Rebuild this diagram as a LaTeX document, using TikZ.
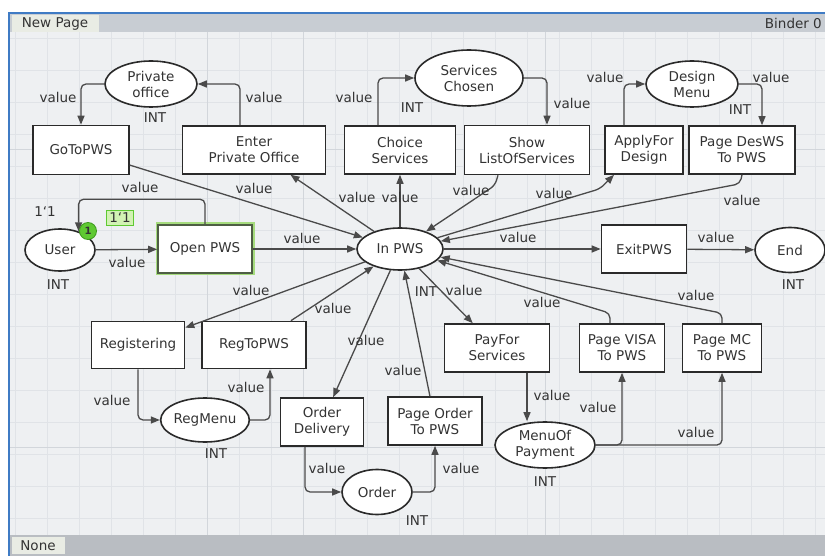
\documentclass[tikz,border=0pt]{standalone}
\usepackage{fontspec}
\setmainfont{DejaVu Sans}
\usetikzlibrary{arrows.meta,shapes.geometric,calc}
\definecolor{canvas}{HTML}{EEF0F2}
\definecolor{gridc}{HTML}{E0E3E7}
\definecolor{gridmaj}{HTML}{D2D6DB}
\definecolor{titlebar}{HTML}{C8CDD3}
\definecolor{tabc}{HTML}{E9ECE4}
\definecolor{botbar}{HTML}{B9BDC2}
\definecolor{frameblue}{HTML}{3F7BC4}
\definecolor{nodeline}{HTML}{2A2A2A}
\definecolor{arcline}{HTML}{4A4A4A}
\definecolor{txt}{HTML}{333333}
\definecolor{glowc}{HTML}{A6DC7E}
\definecolor{opline}{HTML}{4E5E44}
\definecolor{tokgreen}{HTML}{5FC932}
\definecolor{tokdark}{HTML}{3E9A1E}
\definecolor{toklabel}{HTML}{D2F2B4}
\begin{document}
\begin{tikzpicture}[x=1pt,y=-1pt,
  font=\fontsize{13.5}{16}\selectfont,
  cpntrans/.style={draw=nodeline,line width=1.6pt,fill=white,rectangle,align=center,text=txt,inner sep=0pt},
  cpnplace/.style={draw=nodeline,line width=1.6pt,fill=white,ellipse,align=center,text=txt,inner sep=0pt},
  cpnarc/.style={draw=arcline,line width=1.3pt,-{Triangle[length=9pt,width=7pt]},rounded corners=5pt},
  cpnlbl/.style={text=txt,inner sep=0pt},
]
\useasboundingbox (0,0) rectangle (825,556);
\clip (0,0) rectangle (825,556);
% canvas
\fill[white] (0,0) rectangle (825,556);
\fill[canvas] (8,13) rectangle (825,556);
\foreach \x in {15,47,...,815} \draw[gridc,line width=0.8pt] (\x,32) -- (\x,535);
\foreach \y in {38,70,...,530} \draw[gridc,line width=0.8pt] (8,\y) -- (825,\y);
\foreach \x in {207,303,545} \draw[gridmaj,line width=1pt] (\x,32) -- (\x,535);
\foreach \y in {150,447} \draw[gridmaj,line width=1pt] (8,\y) -- (825,\y);
% title and bottom bars
\fill[titlebar] (8,14) rectangle (825,32);
\fill[tabc] (12,15) rectangle (99,32);
\node[cpnlbl] (tabnew) at (55,24) {New Page};
\node[cpnlbl,anchor=east] (binder) at (822,23) {Binder 0};
\fill[botbar] (8,535) rectangle (825,556);
\fill[tabc] (12,537) rectangle (65,554);
\node[cpnlbl] (tabnone) at (38,546) {None};
\draw[frameblue,line width=2pt] (9,556) -- (9,13) -- (825,13);

% places
\node[cpnplace,minimum width=92pt,minimum height=46pt] (po) at (151,84) {Private\\office};
\node[cpnplace,minimum width=108pt,minimum height=56pt] (sc) at (469,78) {Services\\Chosen};
\node[cpnplace,minimum width=92pt,minimum height=46pt] (dm) at (692,84) {Design\\Menu};
\node[cpnplace,minimum width=70pt,minimum height=42pt] (user) at (60,250) {User};
\node[cpnplace,minimum width=86pt,minimum height=42pt] (inp) at (400,249) {In PWS};
\node[cpnplace,minimum width=70pt,minimum height=45pt] (end) at (790,250) {End};
\node[cpnplace,minimum width=86pt,minimum height=44pt] (rm) at (205,420) {RegMenu};
\node[cpnplace,minimum width=70pt,minimum height=45pt] (ord) at (377,492) {Order};
\node[cpnplace,minimum width=100pt,minimum height=46pt] (mp) at (545,445) {MenuOf\\Payment};

% transitions
\node[cpntrans,minimum width=96pt,minimum height=49pt] (g2p) at (81,150) {GoToPWS};
\node[cpntrans,minimum width=143pt,minimum height=48pt] (epo) at (254,150) {Enter\\Private Office};
\node[cpntrans,minimum width=111pt,minimum height=48pt] (cs) at (400,150) {Choice\\Services};
\node[cpntrans,minimum width=125pt,minimum height=49pt] (sl) at (527,150) {Show\\ListOfServices};
\node[cpntrans,minimum width=78pt,minimum height=48pt] (afd) at (644,150) {ApplyFor\\Design};
\node[cpntrans,minimum width=106pt,minimum height=48pt] (pd) at (742,150) {Page DesWS\\To PWS};
\node[cpntrans,draw=opline,minimum width=94pt,minimum height=48pt,preaction={draw=glowc,line width=5pt}] (op) at (205,249) {Open PWS};
\node[cpntrans,minimum width=85pt,minimum height=48pt] (ex) at (644,249) {ExitPWS};
\node[cpntrans,minimum width=93pt,minimum height=47pt] (reg) at (138,345) {Registering};
\node[cpntrans,minimum width=104pt,minimum height=47pt] (rtp) at (254,345) {RegToPWS};
\node[cpntrans,minimum width=105pt,minimum height=48pt] (pfs) at (497,348) {PayFor\\Services};
\node[cpntrans,minimum width=85pt,minimum height=48pt] (pv) at (622,348) {Page VISA\\To PWS};
\node[cpntrans,minimum width=79pt,minimum height=48pt] (pmc) at (722,348) {Page MC\\To PWS};
\node[cpntrans,minimum width=83pt,minimum height=48pt] (od) at (322,422) {Order\\Delivery};
\node[cpntrans,minimum width=94pt,minimum height=48pt] (pot) at (435,421) {Page Order\\To PWS};

% colour set labels
\node[cpnlbl] (point) at (155,118) {INT};
\node[cpnlbl] (scint) at (412,108) {INT};
\node[cpnlbl] (dmint) at (740,110) {INT};
\node[cpnlbl] (userint) at (58,285) {INT};
\node[cpnlbl] (inpint) at (426,292) {INT};
\node[cpnlbl] (endint) at (793,285) {INT};
\node[cpnlbl] (rmint) at (216,454) {INT};
\node[cpnlbl] (ordint) at (417,521) {INT};
\node[cpnlbl] (mpint) at (545,482) {INT};

% arcs
\draw[cpnarc] (po.west) -| (g2p.north);
\draw[cpnarc] ([xshift=-14pt]epo.north) |- (po.east);
\draw[cpnarc] ([xshift=-22pt]cs.north) |- (sc.west);
\draw[cpnarc] (sc.east) -| ([xshift=20pt]sl.north);
\draw[cpnarc] ([xshift=-20pt]afd.north) |- (dm.west);
\draw[cpnarc] (dm.east) -| ([xshift=20pt]pd.north);
\draw[cpnarc] (g2p) -- (inp);
\draw[cpnarc] (inp) -- (epo);
\draw[cpnarc] (inp) -- (cs);
\draw[cpnarc] ([xshift=-29pt]sl.south) -- ++(-3,10) -- (inp);
\draw[cpnarc] (inp) -- ([xshift=-44pt,yshift=-14pt]afd.south) -- ([xshift=-30pt]afd.south);
\draw[cpnarc] (pd.south) -- ++(-2,9) -- (inp);
\draw[cpnarc] (op.north) -- ++(0,-25) -| (user.45);
\draw[cpnarc] (user) -- (op);
\draw[cpnarc] (op) -- (inp);
\draw[cpnarc] (inp) -- (ex);
\draw[cpnarc] (ex) -- (end);
\draw[cpnarc] (inp) -- (reg);
\draw[cpnarc] (rtp) -- (inp);
\draw[cpnarc] (inp) -- (od);
\draw[cpnarc] (pot) -- (inp);
\draw[cpnarc] (inp) -- (pfs);
\draw[cpnarc] ([xshift=-12pt]pv.north) -- ++(0,-10) -- (inp);
\draw[cpnarc] (pmc.north) -- ++(0,-10) -- (inp);
\draw[cpnarc] ([xshift=30pt]pfs.south) -- ([xshift=30pt]pfs.south |- mp.north);
\draw[cpnarc] (mp.east) -| (pv.south);
\draw[cpnarc] (mp.east) -| (pmc.south);
\draw[cpnarc] (reg.south) |- (rm.west);
\draw[cpnarc] (rm.east) -| ([xshift=16pt]rtp.south);
\draw[cpnarc] ([xshift=-17pt]od.south) |- (ord.west);
\draw[cpnarc] (ord.east) -| (pot.south);

% arc inscriptions
\node[cpnlbl] (l1) at (58,97) {value};
\node[cpnlbl] (l2) at (264,97) {value};
\node[cpnlbl] (l3) at (354,97) {value};
\node[cpnlbl] (l4) at (572,103) {value};
\node[cpnlbl] (l5) at (605,77) {value};
\node[cpnlbl] (l6) at (771,77) {value};
\node[cpnlbl] (l7) at (140,187) {value};
\node[cpnlbl] (l8) at (254,188) {value};
\node[cpnlbl] (l9) at (357,197) {value};
\node[cpnlbl] (l10) at (400,197) {value};
\node[cpnlbl] (l11) at (471,190) {value};
\node[cpnlbl] (l12) at (554,193) {value};
\node[cpnlbl] (l13) at (742,200) {value};
\node[cpnlbl] (l14) at (302,238) {value};
\node[cpnlbl] (l15) at (518,237) {value};
\node[cpnlbl] (l16) at (716,237) {value};
\node[cpnlbl] (l17) at (127,262) {value};
\node[cpnlbl] (l18) at (251,290) {value};
\node[cpnlbl] (l19) at (333,308) {value};
\node[cpnlbl] (l20) at (366,340) {value};
\node[cpnlbl] (l21) at (403,370) {value};
\node[cpnlbl] (l22) at (464,290) {value};
\node[cpnlbl] (l23) at (542,302) {value};
\node[cpnlbl] (l24) at (696,295) {value};
\node[cpnlbl] (l25) at (552,395) {value};
\node[cpnlbl] (l26) at (598,407) {value};
\node[cpnlbl] (l27) at (696,432) {value};
\node[cpnlbl] (l28) at (112,400) {value};
\node[cpnlbl] (l29) at (246,387) {value};
\node[cpnlbl] (l30) at (327,468) {value};
\node[cpnlbl] (l31) at (461,468) {value};

% markings
\node[cpnlbl] (initmark) at (45,212) {1\char96 1};
\node[circle,fill=tokgreen,draw=tokdark,line width=0.8pt,minimum size=17pt,inner sep=0pt,text=txt,font=\fontsize{10}{12}\selectfont\bfseries] (tok) at (88,231) {1};
\node[fill=toklabel,draw=tokgreen,line width=0.8pt,inner xsep=3pt,inner ysep=2.5pt,text=txt] (tokl) at (120,218) {1\char96 1};
\end{tikzpicture}
\end{document}
